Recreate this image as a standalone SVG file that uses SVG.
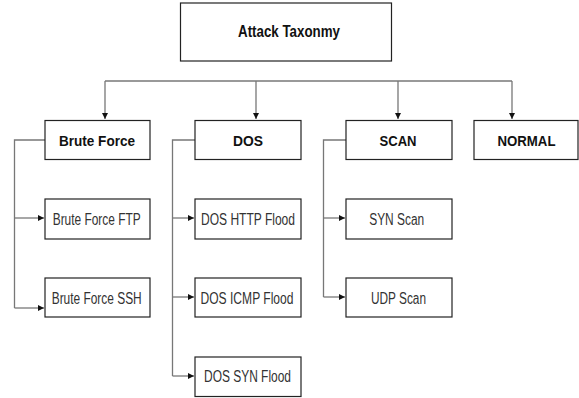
<svg xmlns="http://www.w3.org/2000/svg" width="579" height="398" viewBox="0 0 579 398">
<defs>
<marker id="ah" viewBox="0 0 10 10" refX="10" refY="5" markerWidth="6" markerHeight="6" markerUnits="userSpaceOnUse" orient="auto">
<path d="M0,0 L10,5 L0,10 Z" fill="#111"/>
</marker>
<style>
.box{fill:#fff;stroke:#222;stroke-width:1.2}
.ln{fill:none;stroke:#777;stroke-width:1.3}
.b{font-family:"Liberation Sans",Arial,sans-serif;font-weight:bold;fill:#111;text-anchor:middle}
.r{font-family:"Liberation Sans",Arial,sans-serif;font-size:16px;fill:#333;text-anchor:middle}
</style>
</defs>
<rect width="579" height="398" fill="#fff"/>
<g id="connectors">
<path class="ln" d="M105,81 H512"/>
<path class="ln" d="M105,81 V119" marker-end="url(#ah)"/>
<path class="ln" d="M256,81 V119" marker-end="url(#ah)"/>
<path class="ln" d="M398,81 V119" marker-end="url(#ah)"/>
<path class="ln" d="M512,81 V119" marker-end="url(#ah)"/>
<path class="ln" d="M45,140 H14.5 V308"/>
<path class="ln" d="M14.5,218 H44" marker-end="url(#ah)"/>
<path class="ln" d="M14.5,308 H44" marker-end="url(#ah)"/>
<path class="ln" d="M195,140 H172.5 V376"/>
<path class="ln" d="M172.5,218 H194" marker-end="url(#ah)"/>
<path class="ln" d="M172.5,297 H194" marker-end="url(#ah)"/>
<path class="ln" d="M172.5,376 H194" marker-end="url(#ah)"/>
<path class="ln" d="M346,140 H323.5 V297"/>
<path class="ln" d="M323.5,218 H345" marker-end="url(#ah)"/>
<path class="ln" d="M323.5,297 H345" marker-end="url(#ah)"/>
</g>
<g id="root"><rect class="box" x="180.5" y="3" width="211" height="58"/><text class="b" x="289" y="37" font-size="16.5" textLength="102" lengthAdjust="spacingAndGlyphs">Attack Taxonmy</text></g>
<g id="bruteforce"><rect class="box" x="45" y="120.5" width="105" height="39"/><text class="b" x="97" y="146" font-size="15.5" textLength="76" lengthAdjust="spacingAndGlyphs">Brute Force</text></g>
<g id="dos"><rect class="box" x="195" y="120.5" width="106" height="39"/><text class="b" x="248" y="146" font-size="15.5" textLength="30" lengthAdjust="spacingAndGlyphs">DOS</text></g>
<g id="scan"><rect class="box" x="346" y="120.5" width="106" height="39"/><text class="b" x="398" y="146" font-size="15.5" textLength="37" lengthAdjust="spacingAndGlyphs">SCAN</text></g>
<g id="normal"><rect class="box" x="474" y="120.5" width="104" height="39"/><text class="b" x="526.5" y="146" font-size="15.5" textLength="58" lengthAdjust="spacingAndGlyphs">NORMAL</text></g>
<g id="bf_ftp"><rect class="box" x="45" y="199" width="105" height="40"/><text class="r" x="96.7" y="225" textLength="88" lengthAdjust="spacingAndGlyphs">Brute Force FTP</text></g>
<g id="bf_ssh"><rect class="box" x="45" y="278" width="105" height="39"/><text class="r" x="96.7" y="303.5" textLength="90" lengthAdjust="spacingAndGlyphs">Brute Force SSH</text></g>
<g id="dos_http"><rect class="box" x="195" y="199" width="106" height="40"/><text class="r" x="248" y="225" textLength="94" lengthAdjust="spacingAndGlyphs">DOS HTTP Flood</text></g>
<g id="dos_icmp"><rect class="box" x="195" y="278" width="106" height="39"/><text class="r" x="247" y="303.5" textLength="93" lengthAdjust="spacingAndGlyphs">DOS ICMP Flood</text></g>
<g id="dos_syn"><rect class="box" x="195" y="357" width="106" height="39.5"/><text class="r" x="247.5" y="382" textLength="87" lengthAdjust="spacingAndGlyphs">DOS SYN Flood</text></g>
<g id="syn_scan"><rect class="box" x="346" y="199" width="106" height="40"/><text class="r" x="396.7" y="225" textLength="55" lengthAdjust="spacingAndGlyphs">SYN Scan</text></g>
<g id="udp_scan"><rect class="box" x="346" y="278" width="106" height="39"/><text class="r" x="398.5" y="303.5" textLength="55" lengthAdjust="spacingAndGlyphs">UDP Scan</text></g>
</svg>
